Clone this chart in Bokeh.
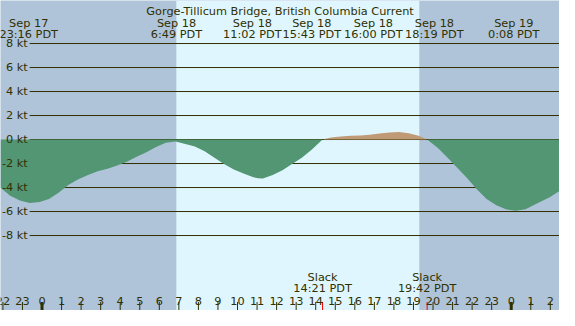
from bokeh.plotting import figure
from bokeh.models import BoxAnnotation
from bokeh.core.properties import value
from bokeh.embed import file_html
from bokeh.resources import INLINE

# ---------------- data ----------------
title = "Gorge-Tillicum Bridge, British Columbia Current"

# hours after Sep 18 00:00 PDT, current speed in knots (+ flood, - ebb)
hours = [-2.12, -1.63, -1.13, -0.63, -0.13, 0.36, 0.86, 1.36, 1.86, 2.35,
         2.85, 3.35, 3.84, 4.34, 4.84, 5.34, 5.83, 6.33, 6.83, 7.33,
         7.82, 8.32, 8.82, 9.31, 9.81, 10.31, 10.81, 11.05, 11.30, 11.80,
         12.30, 12.79, 13.29, 13.79, 14.35, 14.78, 15.28, 15.78, 16.28, 16.77,
         17.27, 17.77, 18.27, 18.76, 19.26, 19.70, 20.25, 20.75, 21.25, 21.75,
         22.24, 22.74, 23.24, 23.73, 24.23, 24.73, 25.47, 25.97, 26.47]
knots = [-4.02, -4.68, -5.08, -5.29, -5.21, -4.95, -4.42, -3.76, -3.31, -2.96,
         -2.65, -2.43, -2.17, -1.85, -1.43, -1.06, -0.63, -0.26, -0.16, -0.37,
         -0.58, -0.98, -1.51, -2.04, -2.49, -2.83, -3.15, -3.23, -3.25, -2.96,
         -2.56, -2.04, -1.51, -0.85, 0.0, 0.16, 0.26, 0.32, 0.34, 0.40,
         0.50, 0.58, 0.63, 0.53, 0.32, 0.0, -0.71, -1.51, -2.38, -3.23,
         -4.15, -4.95, -5.48, -5.82, -5.93, -5.82, -5.21, -4.81, -4.29]

kt_ticks = [8, 6, 4, 2, 0, -2, -4, -6, -8]
kt_labels = ["8 kt", "6 kt", "4 kt", "2 kt", "0 kt", "-2 kt", "-4 kt", "-6 kt", "-8 kt"]

hour_ticks = list(range(-2, 27))
hour_labels = [str(h % 24) for h in hour_ticks]
midnights = [0, 24]

event_dates = ["Sep 17", "Sep 18", "Sep 18", "Sep 18", "Sep 18", "Sep 18", "Sep 19"]
event_times = ["23:16 PDT", "6:49 PDT", "11:02 PDT", "15:43 PDT", "16:00 PDT", "18:19 PDT", "0:08 PDT"]
event_label_hours = [-0.68, 6.88, 10.76, 13.80, 16.95, 20.07, 24.13]

slack_hours = [14.35, 19.70]
slack_times = ["14:21 PDT", "19:42 PDT"]

sunrise, sunset = 6.87, 19.30

# ---------------- styling / layout ----------------
NIGHT = "#AFC3D9"
DAY = "#DFF6FE"
EBB = "#529673"
FLOOD = "#C09A74"
TXT = "#303000"
FONT = value("DejaVu Sans")
FS = "11.3px"

W, H = 559, 310
# reference picture geometry (575 x 326 px), scaled into the figure
REF_W, REF_H = 575, 326
HR_PX, HR0_X = 20.11, 42.7
KT_PX, KT0_Y = 12.62, 146.2
x_start = (0 - HR0_X) / HR_PX
x_end = (REF_W - HR0_X) / HR_PX
y_top = (KT0_Y - 0) / KT_PX
y_bot = (KT0_Y - REF_H) / KT_PX


def vy(ref_y):
    return (KT0_Y - ref_y) / KT_PX


def hx(ref_x):
    return (ref_x - HR0_X) / HR_PX


p = figure(width=W, height=H, x_range=(x_start, x_end), y_range=(y_bot, y_top),
           x_axis_type=None, y_axis_type=None, toolbar_location=None,
           output_backend="svg", min_border=0,
           background_fill_color=NIGHT, border_fill_color=NIGHT,
           outline_line_color=None)

p.add_layout(BoxAnnotation(left=sunrise, right=sunset, fill_color=DAY,
                           fill_alpha=1.0, line_color=None, level="underlay"))

# grid lines
gx0 = hx(30)
p.segment(x0=[gx0] * len(kt_ticks), y0=kt_ticks, x1=[x_end] * len(kt_ticks), y1=kt_ticks,
          line_color=TXT, line_width=1)

# current areas
ebb = [min(k, 0) for k in knots]
flood = [max(k, 0) for k in knots]
p.varea(x=hours, y1=ebb, y2=[0] * len(hours), fill_color=EBB)
p.varea(x=hours, y1=[0] * len(hours), y2=flood, fill_color=FLOOD)

txt = dict(text_font=FONT, text_font_size=FS, text_color=TXT)

# y labels
p.text(x=[hx(28)] * len(kt_ticks), y=kt_ticks, text=kt_labels,
       text_align="right", text_baseline="middle", **txt)

# title and event labels
p.text(x=[(x_start + x_end) / 2], y=[vy(11.7)], text=[title],
       text_align="center", text_baseline="alphabetic", **txt)
p.text(x=event_label_hours, y=[vy(24)] * len(event_dates), text=event_dates,
       text_align="center", text_baseline="alphabetic", **txt)
p.text(x=event_label_hours, y=[vy(35.8)] * len(event_times), text=event_times,
       text_align="center", text_baseline="alphabetic", **txt)

# bottom hour ticks
normal = [h for h in hour_ticks if h not in midnights]
p.segment(x0=normal, y0=[vy(317)] * len(normal), x1=normal, y1=[vy(327)] * len(normal),
          line_color=TXT, line_width=1)
p.segment(x0=midnights, y0=[vy(317)] * 2, x1=midnights, y1=[vy(327)] * 2,
          line_color=TXT, line_width=3)
p.segment(x0=slack_hours, y0=[vy(317)] * 2, x1=slack_hours, y1=[vy(327)] * 2,
          line_color="#FF0000", line_width=1)
p.text(x=hour_ticks, y=[vy(316)] * len(hour_ticks), text=hour_labels,
       text_align="center", text_baseline="alphabetic", **txt)

# slack labels
p.text(x=slack_hours, y=[vy(291.7)] * 2, text=["Slack"] * 2,
       text_align="center", text_baseline="alphabetic", **txt)
p.text(x=slack_hours, y=[vy(303.3)] * 2, text=slack_times,
       text_align="center", text_baseline="alphabetic", **txt)

open("out.html", "w").write(file_html(p, INLINE))
